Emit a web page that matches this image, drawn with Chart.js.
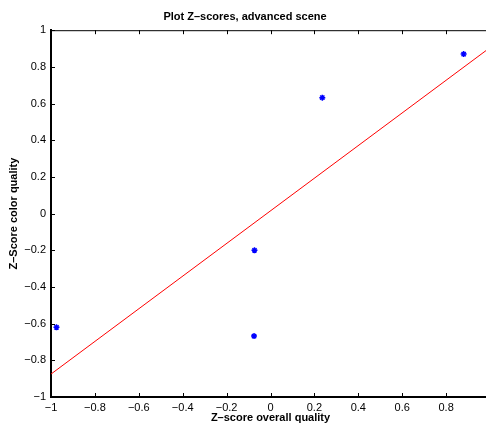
<!DOCTYPE html>
<html>
<head>
<meta charset="utf-8">
<script src="https://cdn.jsdelivr.net/npm/chart.js@4/dist/chart.umd.min.js"></script>
<style>
  html, body { margin: 0; padding: 0; background: #fff; overflow: hidden; }
  #grafico { display: block; }
</style>
</head>
<body>
<canvas id="grafico" width="500" height="426"></canvas>
<script>
// Datos
let zOverall = [0.88, 0.236, -0.073, -0.075, -0.975];
let zColor = [0.87, 0.632, -0.2, -0.668, -0.62];

// Recta de ajuste (extremos)
let ajusteX = [-1, 1];
let ajusteY = [-0.875, 0.905];

let tickValues = [-1, -0.8, -0.6, -0.4, -0.2, 0, 0.2, 0.4, 0.6, 0.8, 1];

let puntos = zOverall.map((x, i) => ({ x: x, y: zColor[i] }));
let recta = ajusteX.map((x, i) => ({ x: x, y: ajusteY[i] }));

const fuente = "'Liberation Sans', Arial, Helvetica, sans-serif";

// Formato estilo MATLAB con signo menos
function etiqueta(v) {
    let n = Number(v.toFixed(1));
    return String(n).replace('-', '\u2212');
}

// Ticks hacia adentro y borde superior
const ticksAdentro = {
    id: 'ticksAdentro',
    afterDatasetsDraw(chart) {
        const ctx = chart.ctx;
        const area = chart.chartArea;
        const sx = chart.scales.x;
        const sy = chart.scales.y;
        ctx.save();
        ctx.strokeStyle = '#000';
        ctx.lineWidth = 1;
        ctx.beginPath();
        ctx.moveTo(area.left, area.top + 0.5);
        ctx.lineTo(area.right, area.top + 0.5);
        sx.ticks.forEach(t => {
            let px = Math.round(sx.getPixelForValue(t.value)) + 0.5;
            ctx.moveTo(px, area.bottom);
            ctx.lineTo(px, area.bottom - 4);
            ctx.moveTo(px, area.top);
            ctx.lineTo(px, area.top + 4);
        });
        sy.ticks.forEach(t => {
            let py = Math.round(sy.getPixelForValue(t.value)) + 0.5;
            ctx.moveTo(area.left, py);
            ctx.lineTo(area.left + 4, py);
            ctx.moveTo(area.right, py);
            ctx.lineTo(area.right - 4, py);
        });
        ctx.stroke();
        ctx.restore();
    }
};

let ctx = document.getElementById('grafico');
let grafico = new Chart(ctx, {
    type: 'scatter',
    data: {
        datasets: [{
            label: 'Z-scores',
            data: puntos,
            pointStyle: 'star',
            pointRadius: 3,
            borderColor: '#0000ff',
            backgroundColor: '#0000ff',
            borderWidth: 1.5,
        }, {
            type: 'line',
            label: 'Ajuste',
            data: recta,
            borderColor: '#ff0000',
            borderWidth: 1,
            pointRadius: 0,
            fill: false,
        }],
    },
    plugins: [ticksAdentro],
    options: {
        responsive: false,
        animation: false,
        layout: { padding: { left: 0, right: 10, top: 0, bottom: 0 } },
        plugins: {
            legend: { display: false },
            tooltip: { enabled: false },
            title: {
                display: true,
                text: 'Plot Z\u2013scores, advanced scene',
                color: '#000',
                font: { family: fuente, size: 11, weight: 'bold' },
                padding: { top: 10, bottom: 7 },
            },
        },
        scales: {
            x: {
                type: 'linear',
                min: -1,
                max: 1,
                afterBuildTicks: s => { s.ticks = tickValues.map(v => ({ value: v })); },
                afterFit: s => { s.height = 29; },
                grid: { display: false, drawTicks: false },
                border: { display: true, color: '#000', width: 2 },
                ticks: {
                    color: '#000',
                    padding: 4,
                    maxRotation: 0,
                    autoSkip: false,
                    font: { family: fuente, size: 11 },
                    callback: v => etiqueta(v),
                },
                title: {
                    display: true,
                    text: 'Z\u2013score overall quality',
                    color: '#000',
                    font: { family: fuente, size: 11, weight: 'bold' },
                    padding: { top: 0, bottom: 1 },
                },
            },
            y: {
                type: 'linear',
                min: -1,
                max: 1,
                afterBuildTicks: s => { s.ticks = tickValues.map(v => ({ value: v })); },
                afterFit: s => { s.width = 51; },
                grid: { display: false, drawTicks: false },
                border: { display: true, color: '#000', width: 2 },
                ticks: {
                    color: '#000',
                    padding: 5,
                    autoSkip: false,
                    font: { family: fuente, size: 11 },
                    callback: v => etiqueta(v),
                },
                title: {
                    display: true,
                    text: 'Z\u2013Score color quality',
                    color: '#000',
                    font: { family: fuente, size: 11, weight: 'bold' },
                    padding: { top: 7, bottom: 0 },
                },
            },
        },
    },
});
</script>
</body>
</html>
